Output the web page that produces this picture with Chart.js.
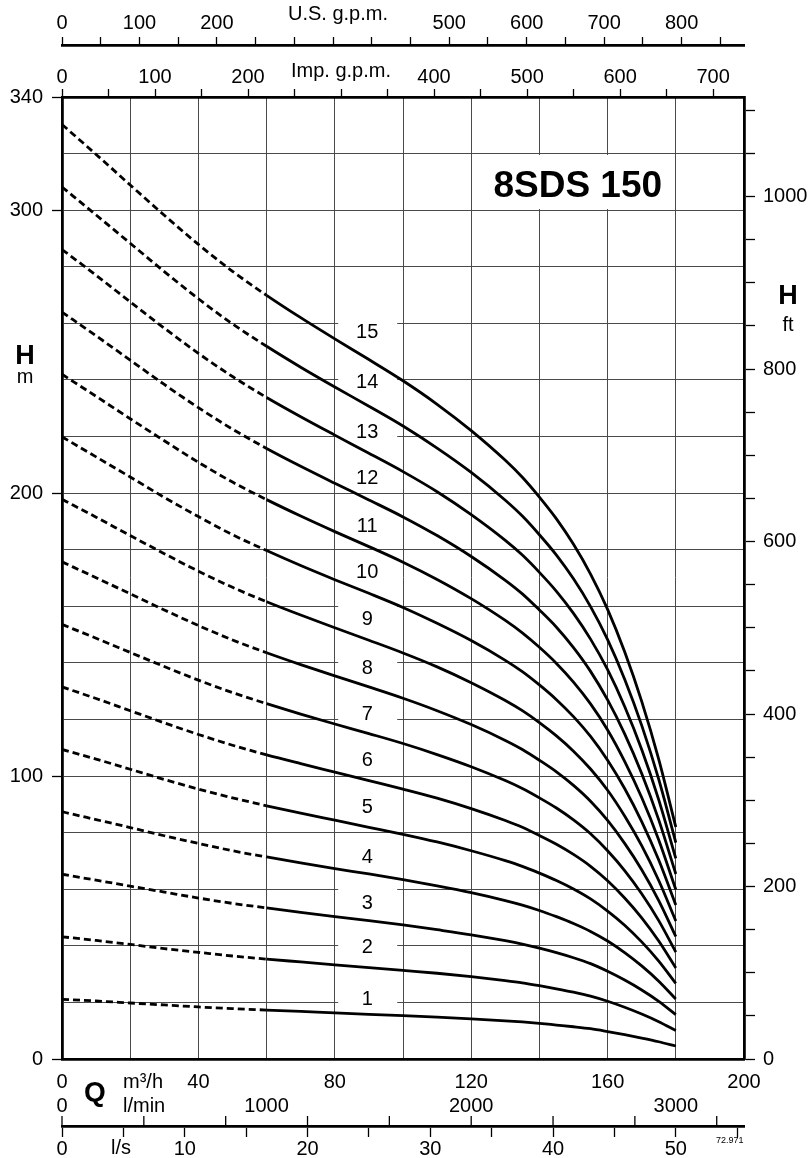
<!DOCTYPE html>
<html>
<head>
<meta charset="utf-8">
<title>8SDS 150</title>
<script src="https://cdn.jsdelivr.net/npm/chart.js@4.4.0/dist/chart.umd.min.js"></script>
<style>
  html, body { margin: 0; padding: 0; background: #fff; }
  canvas { display: block; }
</style>
</head>
<body>
<canvas id="pumpChart" width="810" height="1158"></canvas>
<script>
// flow in m3/h, head in m, one array per number of stages
const flow = [0, 10, 20, 30, 40, 50, 60, 70, 80, 90, 100, 110, 120, 130, 135, 140, 145, 150, 155, 160, 165, 170, 175, 180];
const stageLabels = ['1', '2', '3', '4', '5', '6', '7', '8', '9', '10', '11', '12', '13', '14', '15'];

const head1 = [21.1, 20.5, 19.8, 19.1, 18.4, 17.8, 17.3, 16.8, 16.3, 15.8, 15.3, 14.8, 14.2, 13.5, 13.1, 12.6, 12.0, 11.4, 10.7, 9.7, 8.6, 7.4, 6.1, 4.6];
const head2 = [43.2, 41.9, 40.5, 39.0, 37.7, 36.4, 35.3, 34.3, 33.3, 32.3, 31.3, 30.3, 29.1, 27.7, 26.9, 25.9, 24.8, 23.6, 22.2, 20.4, 18.3, 15.9, 13.2, 10.1];
const head3 = [65.3, 63.2, 61.1, 59.0, 56.9, 55.0, 53.4, 51.8, 50.3, 48.9, 47.4, 45.7, 43.9, 41.8, 40.6, 39.2, 37.6, 35.8, 33.7, 31.0, 27.9, 24.4, 20.4, 15.7];
const head4 = [87.4, 84.6, 81.8, 78.9, 76.2, 73.6, 71.4, 69.3, 67.3, 65.4, 63.4, 61.2, 58.8, 56.0, 54.4, 52.5, 50.3, 47.9, 45.1, 41.7, 37.6, 32.9, 27.5, 21.2];
const head5 = [109.4, 106.0, 102.4, 98.8, 95.4, 92.3, 89.5, 86.9, 84.4, 81.9, 79.4, 76.7, 73.6, 70.1, 68.1, 65.7, 63.1, 60.1, 56.6, 52.3, 47.3, 41.4, 34.6, 26.7];
const head6 = [131.5, 127.4, 123.1, 118.8, 114.7, 110.9, 107.5, 104.4, 101.4, 98.4, 95.4, 92.2, 88.5, 84.3, 81.9, 79.0, 75.9, 72.3, 68.1, 63.0, 56.9, 49.9, 41.7, 32.2];
const head7 = [153.6, 148.7, 143.7, 138.7, 133.9, 129.5, 125.6, 121.9, 118.4, 115.0, 111.5, 107.6, 103.3, 98.4, 95.6, 92.3, 88.7, 84.5, 79.6, 73.6, 66.6, 58.4, 48.9, 37.8];
const head8 = [175.7, 170.1, 164.4, 158.7, 153.2, 148.1, 143.6, 139.4, 135.4, 131.5, 127.5, 123.1, 118.2, 112.6, 109.4, 105.6, 101.5, 96.7, 91.1, 84.3, 76.2, 66.9, 56.0, 43.3];
const head9 = [197.8, 191.5, 185.0, 178.6, 172.4, 166.7, 161.6, 156.9, 152.4, 148.0, 143.5, 138.6, 133.0, 126.7, 123.1, 118.9, 114.2, 108.8, 102.5, 95.0, 85.9, 75.4, 63.1, 48.8];
const head10 = [219.9, 212.8, 205.7, 198.5, 191.7, 185.3, 179.7, 174.4, 169.4, 164.6, 159.6, 154.0, 147.9, 140.9, 136.9, 132.2, 127.0, 121.0, 114.0, 105.6, 95.6, 83.9, 70.3, 54.4];
const head11 = [242.0, 234.2, 226.3, 218.5, 210.9, 203.9, 197.7, 191.9, 186.4, 181.1, 175.6, 169.5, 162.7, 155.0, 150.6, 145.5, 139.8, 133.2, 125.5, 116.3, 105.2, 92.4, 77.4, 59.9];
const head12 = [264.0, 255.6, 247.0, 238.4, 230.2, 222.6, 215.8, 209.5, 203.5, 197.6, 191.6, 185.0, 177.6, 169.2, 164.4, 158.7, 152.6, 145.4, 137.0, 126.9, 114.9, 100.9, 84.5, 65.4];
const head13 = [286.1, 277.0, 267.6, 258.3, 249.4, 241.2, 233.8, 227.0, 220.5, 214.1, 207.6, 200.5, 192.4, 183.3, 178.1, 172.0, 165.3, 157.5, 148.4, 137.6, 124.6, 109.4, 91.6, 70.9];
const head14 = [308.2, 298.3, 288.3, 278.3, 268.7, 259.8, 251.9, 244.5, 237.5, 230.7, 223.7, 215.9, 207.3, 197.5, 191.9, 185.3, 178.1, 169.7, 159.9, 148.2, 134.2, 117.9, 98.8, 76.5];
const head15 = [330.3, 319.7, 308.9, 298.2, 287.9, 278.4, 269.9, 262.0, 254.5, 247.2, 239.7, 231.4, 222.1, 211.6, 205.6, 198.6, 190.9, 181.9, 171.4, 158.9, 143.9, 126.4, 105.9, 82.0];

// where the stage numbers sit (flow, head)
const labelFlow = 89.5;
const labelHead = [20.9, 39.4, 54.8, 71.1, 89.0, 105.5, 121.8, 137.9, 155.2, 171.8, 188.3, 205.0, 221.3, 239.0, 256.7];
const dashedUpTo = 60; // curves are dashed below this flow

// tick labels shown on each axis
const headTicks = [0, 100, 200, 300, 340];
const flowTicks = [0, 40, 80, 120, 160, 200];
const feetTicks = [0, 200, 400, 600, 800, 1000];
const usTicks = [0, 100, 200, 500, 600, 700, 800];
const impTicks = [0, 100, 200, 400, 500, 600, 700];
const lminTicks = [0, 1000, 2000, 3000];
const lsTicks = [0, 10, 20, 30, 40, 50];

const heads = [head1, head2, head3, head4, head5, head6, head7, head8, head9, head10, head11, head12, head13, head14, head15];

const FONT = '"Liberation Sans", Arial, Helvetica, sans-serif';
Chart.defaults.font.family = FONT;
Chart.defaults.font.size = 20;
Chart.defaults.color = '#000';

const gridColor = '#4a4a4a';

const datasets = heads.map((h, i) => ({
  label: stageLabels[i],
  data: flow.map((q, j) => ({ x: q, y: h[j] })),
  borderColor: '#000',
  borderWidth: 2.8,
  pointRadius: 0,
  fill: false,
  cubicInterpolationMode: 'monotone',
  segment: {
    borderDash: ctx => ctx.p1.parsed.x <= dashedUpTo ? [7, 4] : undefined
  }
}));

const extras = {
  id: 'extras',
  beforeDatasetsDraw(chart) {
    const { ctx, scales: { x, y } } = chart;
    ctx.save();
    ctx.fillStyle = '#fff';
    // white box behind the model name
    const bx1 = x.getPixelForValue(124), bx2 = x.getPixelForValue(178.5);
    const by1 = y.getPixelForValue(319.5), by2 = y.getPixelForValue(300.4);
    ctx.fillRect(bx1, by1, bx2 - bx1, by2 - by1);
    // white boxes behind stage numbers
    labelHead.forEach(h => {
      const cx = x.getPixelForValue(labelFlow), cy = y.getPixelForValue(h);
      ctx.fillRect(cx - 29, cy - 16, 59, 29);
    });
    ctx.fillStyle = '#000';
    ctx.font = '20px ' + FONT;
    ctx.textAlign = 'center';
    ctx.textBaseline = 'middle';
    labelHead.forEach((h, i) => {
      ctx.fillText(stageLabels[i], x.getPixelForValue(labelFlow), y.getPixelForValue(h));
    });
    ctx.font = 'bold 37px ' + FONT;
    ctx.textBaseline = 'alphabetic';
    ctx.fillText('8SDS 150', (bx1 + bx2) / 2, 197);
    ctx.restore();
  },
  afterDraw(chart) {
    const { ctx, scales: { lmin, ls } } = chart;
    ctx.save();
    ctx.strokeStyle = '#000';
    ctx.fillStyle = '#000';
    // l/min ticks stand on top of the l/s line
    ctx.lineWidth = 1.3;
    lmin.ticks.forEach(t => {
      const px = lmin.getPixelForValue(t.value);
      ctx.beginPath();
      ctx.moveTo(px, ls.top - 10);
      ctx.lineTo(px, ls.top);
      ctx.stroke();
    });
    ctx.font = '20px ' + FONT;
    ctx.textAlign = 'center';
    ctx.textBaseline = 'middle';
    lminTicks.forEach(v => ctx.fillText(String(v), lmin.getPixelForValue(v), ls.top - 20));

    ctx.fillText('U.S. g.p.m.', 338, 14);
    ctx.fillText('Imp. g.p.m.', 341, 71);
    ctx.fillText('m', 25, 377);
    ctx.fillText('ft', 788, 325);
    ctx.font = 'bold 27px ' + FONT;
    ctx.fillText('H', 25, 357);
    ctx.fillText('H', 788, 297);
    ctx.font = 'bold 28px ' + FONT;
    ctx.fillText('Q', 95, 1093);
    ctx.font = '20px ' + FONT;
    ctx.textAlign = 'left';
    ctx.fillText('m\u00b3/h', 123, 1082);
    ctx.fillText('l/min', 123, 1106);
    ctx.fillText('l/s', 111, 1148);
    ctx.font = '9px ' + FONT;
    ctx.fillText('72.971', 716, 1141);
    ctx.restore();
  }
};

const tickFrom = list => v => list.includes(v) ? String(v) : '';

new Chart(document.getElementById('pumpChart'), {
  type: 'line',
  data: { datasets: datasets },
  options: {
    responsive: false,
    animation: false,
    devicePixelRatio: 1,
    layout: { padding: 0 },
    plugins: { legend: { display: false }, tooltip: { enabled: false } },
    scales: {
      x: {
        type: 'linear', position: 'bottom', weight: 1, min: 0, max: 200,
        ticks: { stepSize: 20, padding: 11, autoSkip: false, maxRotation: 0, callback: tickFrom(flowTicks) },
        grid: { color: gridColor, lineWidth: 1, drawTicks: false },
        border: { color: '#000', width: 2.8 },
        afterFit: s => { s.height = 67; }
      },
      ls: {
        type: 'linear', axis: 'x', position: 'bottom', weight: 2, min: 0, max: 200 / 3.6,
        ticks: { stepSize: 5, padding: 0, autoSkip: false, maxRotation: 0, includeBounds: false, callback: tickFrom(lsTicks) },
        grid: { drawOnChartArea: false, tickLength: 11, tickColor: '#000', tickWidth: 1.3 },
        border: { color: '#000', width: 2.8 },
        afterFit: s => { s.height = 32; }
      },
      lmin: {
        type: 'linear', axis: 'x', position: 'bottom', weight: 3, display: false, min: 0, max: 200 * 1000 / 60,
        ticks: { stepSize: 200, includeBounds: false },
        afterFit: s => { s.height = 0; }
      },
      imp: {
        type: 'linear', axis: 'x', position: 'top', weight: 1, min: 0, max: 200 * 3.66615,
        ticks: { stepSize: 50, padding: 0, autoSkip: false, maxRotation: 0, includeBounds: false, callback: tickFrom(impTicks) },
        grid: { drawOnChartArea: false, tickLength: 8, tickColor: '#000', tickWidth: 1.3 },
        border: { color: '#000', width: 2.8 },
        afterFit: s => { s.height = 52; }
      },
      us: {
        type: 'linear', axis: 'x', position: 'top', weight: 2, min: 0, max: 200 * 4.40287,
        ticks: { stepSize: 50, padding: 1.5, autoSkip: false, maxRotation: 0, includeBounds: false, callback: tickFrom(usTicks) },
        grid: { drawOnChartArea: false, tickLength: 8, tickColor: '#000', tickWidth: 1.3 },
        border: { color: '#000', width: 2.8 },
        afterFit: s => { s.height = 45; }
      },
      y: {
        type: 'linear', position: 'left', min: 0, max: 340,
        ticks: { stepSize: 20, padding: 9, autoSkip: false, callback: tickFrom(headTicks) },
        grid: {
          color: gridColor, lineWidth: 1, tickLength: 10, tickWidth: 1.3,
          tickColor: ctx => headTicks.includes(ctx.tick.value) ? '#000' : 'rgba(0,0,0,0)'
        },
        border: { color: '#000', width: 2.8 },
        afterFit: s => { s.width = 62; }
      },
      ft: {
        type: 'linear', axis: 'y', position: 'right', min: 0, max: 340 / 0.3048,
        ticks: { stepSize: 50, padding: 8, autoSkip: false, includeBounds: false, callback: tickFrom(feetTicks) },
        grid: { drawOnChartArea: false, tickLength: 11, tickColor: '#000', tickWidth: 1.3 },
        border: { color: '#000', width: 2.8 },
        afterFit: s => { s.width = 66; }
      }
    }
  },
  plugins: [extras]
});
</script>
</body>
</html>
